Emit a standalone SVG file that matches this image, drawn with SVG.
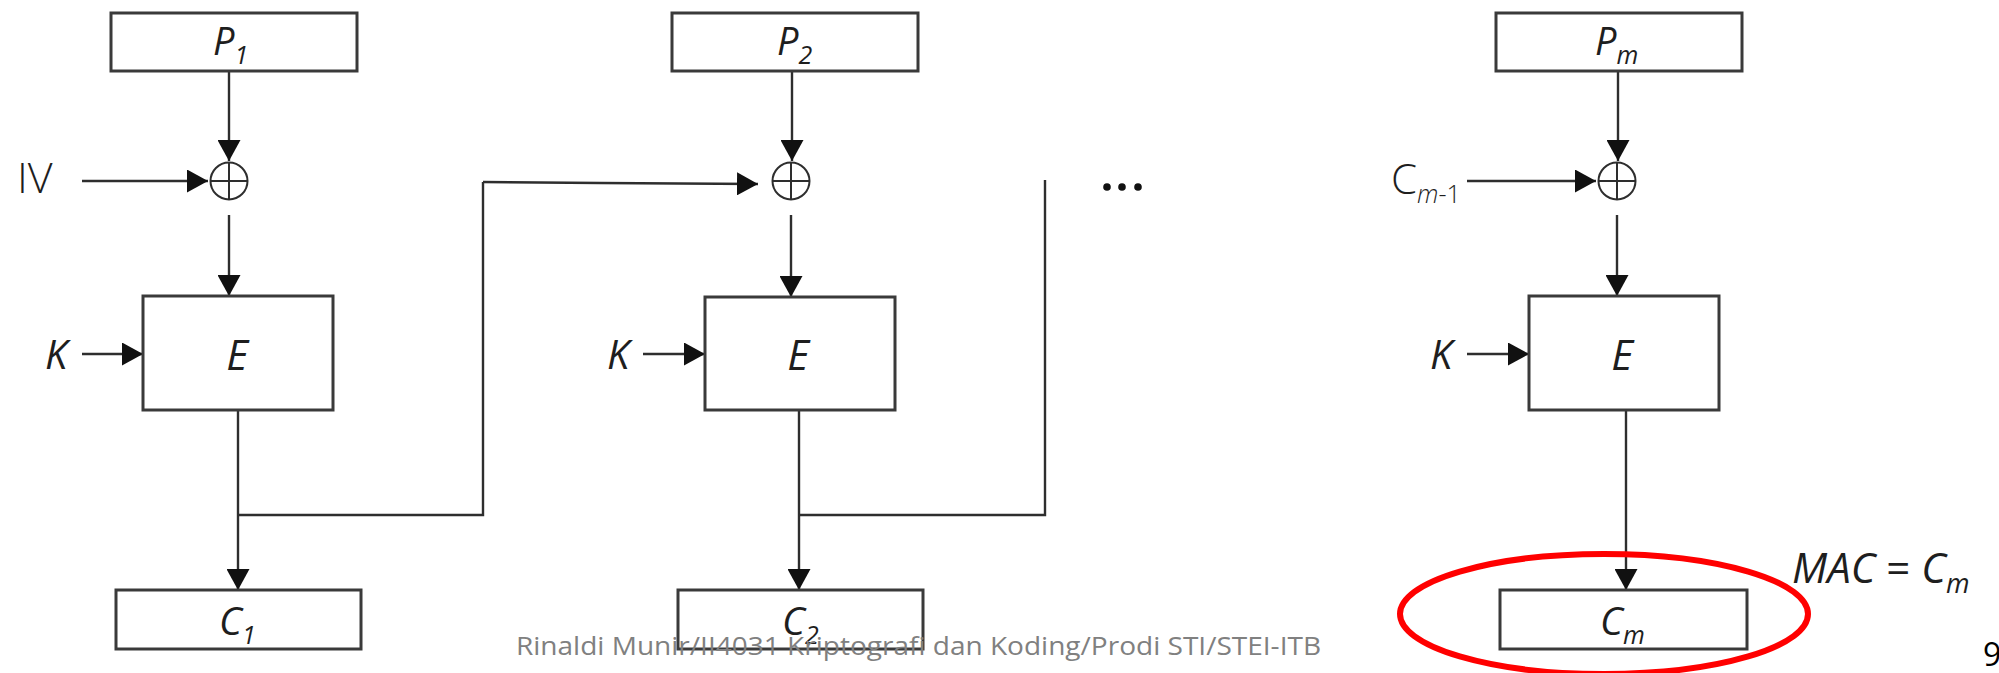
<svg xmlns="http://www.w3.org/2000/svg" width="1999" height="673" viewBox="0 0 1999 673">
<style>
.box{fill:#fff;stroke:#3a3a3a;stroke-width:3}
.ln{fill:none;stroke:#2e2e2e;stroke-width:2.4}
.arr{fill:none;stroke:#2e2e2e;stroke-width:2.4;marker-end:url(#ah)}
.xor{fill:none;stroke:#2e2e2e;stroke-width:2}
.lbl{font-family:"Open Sans","Liberation Sans",sans-serif;font-style:italic;fill:#1e1e1e}
.up{font-family:"Open Sans","Liberation Sans",sans-serif;fill:#1e1e1e;font-weight:300}
.sub{font-size:25px}
.foot{font-family:"Open Sans","Liberation Sans",sans-serif;fill:#808080;font-size:26px}
</style>
<defs>
<marker id="ah" viewBox="0 0 21 23" refX="21" refY="11.5" markerWidth="21" markerHeight="23" markerUnits="userSpaceOnUse" orient="auto">
<path d="M0,0 L21,11.5 L0,23 Z" fill="#111"/>
</marker>
</defs>
<rect width="1999" height="673" fill="#fff"/>

<g id="connectors">
<!-- block 1 -->
<line class="arr" x1="229" y1="71" x2="229" y2="161"/>
<line class="arr" x1="82" y1="181" x2="208" y2="181"/>
<line class="arr" x1="229" y1="215" x2="229" y2="296"/>
<line class="arr" x1="82" y1="354" x2="143" y2="354"/>
<line class="arr" x1="238" y1="410" x2="238" y2="590"/>
<polyline class="ln" points="238,515 483,515 483,182"/>
<polyline class="arr" points="483,182 600,183 758,184"/>
<!-- block 2 -->
<line class="arr" x1="792" y1="71" x2="792" y2="161"/>
<line class="arr" x1="791" y1="215" x2="791" y2="297"/>
<line class="arr" x1="643" y1="354" x2="705" y2="354"/>
<line class="arr" x1="799" y1="410" x2="799" y2="590"/>
<polyline class="ln" points="799,515 1045,515 1045,180"/>
<!-- block m -->
<line class="arr" x1="1618" y1="71" x2="1618" y2="161"/>
<line class="arr" x1="1467" y1="181" x2="1596" y2="181"/>
<line class="arr" x1="1617" y1="215" x2="1617" y2="296"/>
<line class="arr" x1="1467" y1="354" x2="1529" y2="354"/>
<line class="arr" x1="1626" y1="410" x2="1626" y2="590"/>
</g>

<g id="node-P1">
<rect class="box" x="111" y="13" width="246" height="58"/>
<text class="lbl" x="213" y="55" font-size="38">P<tspan class="sub" dy="9">1</tspan></text>
</g>
<g id="node-xor1">
<circle class="xor" cx="229" cy="181" r="18.5"/>
<line class="xor" x1="210.5" y1="181" x2="247.5" y2="181"/>
<line class="xor" x1="229" y1="162.5" x2="229" y2="199.5"/>
</g>
<g id="node-IV"><text class="up" x="17" y="193" font-size="43">IV</text></g>
<g id="node-K1"><text class="lbl" x="45" y="369" font-size="40">K</text></g>
<g id="node-E1">
<rect class="box" x="143" y="296" width="190" height="114"/>
<text class="lbl" x="237" y="370" font-size="42" text-anchor="middle">E</text>
</g>
<g id="node-C1">
<rect class="box" x="116" y="590" width="245" height="59"/>
<text class="lbl" x="219" y="635" font-size="39">C<tspan class="sub" dy="9">1</tspan></text>
</g>

<g id="node-P2">
<rect class="box" x="672" y="13" width="246" height="58"/>
<text class="lbl" x="777" y="55" font-size="38">P<tspan class="sub" dy="9">2</tspan></text>
</g>
<g id="node-xor2">
<circle class="xor" cx="791" cy="181" r="18.5"/>
<line class="xor" x1="772.5" y1="181" x2="809.5" y2="181"/>
<line class="xor" x1="791" y1="162.5" x2="791" y2="199.5"/>
</g>
<g id="node-K2"><text class="lbl" x="607" y="369" font-size="40">K</text></g>
<g id="node-E2">
<rect class="box" x="705" y="297" width="190" height="113"/>
<text class="lbl" x="798" y="370" font-size="42" text-anchor="middle">E</text>
</g>
<g id="node-C2">
<rect class="box" x="678" y="590" width="245" height="59"/>
<text class="lbl" x="782" y="635" font-size="39">C<tspan class="sub" dy="9">2</tspan></text>
</g>

<g id="node-dots">
<circle cx="1107" cy="187" r="3.8" fill="#111"/>
<circle cx="1122" cy="187" r="3.8" fill="#111"/>
<circle cx="1138" cy="187" r="3.8" fill="#111"/>
</g>

<g id="node-Pm">
<rect class="box" x="1496" y="13" width="246" height="58"/>
<text class="lbl" x="1595" y="55" font-size="38">P<tspan class="sub" dy="9">m</tspan></text>
</g>
<g id="node-xorm">
<circle class="xor" cx="1617" cy="181" r="18.5"/>
<line class="xor" x1="1598.5" y1="181" x2="1635.5" y2="181"/>
<line class="xor" x1="1617" y1="162.5" x2="1617" y2="199.5"/>
</g>
<g id="node-Cm1"><text class="up" x="1391" y="194" font-size="42">C<tspan class="sub" dy="9" font-style="italic">m</tspan><tspan class="sub">-1</tspan></text></g>
<g id="node-Km"><text class="lbl" x="1430" y="369" font-size="40">K</text></g>
<g id="node-Em">
<rect class="box" x="1529" y="296" width="190" height="114"/>
<text class="lbl" x="1622" y="370" font-size="42" text-anchor="middle">E</text>
</g>
<g id="node-Cm">
<rect class="box" x="1500" y="590" width="247" height="59"/>
<text class="lbl" x="1600" y="635" font-size="39">C<tspan class="sub" dy="9">m</tspan></text>
</g>
<g id="node-highlight">
<ellipse cx="1604" cy="614" rx="204" ry="60" fill="none" stroke="#ff0000" stroke-width="6"/>
</g>
<g id="node-MAC">
<text class="lbl" x="1792" y="583" font-size="42" fill="#000">MAC <tspan font-style="normal">=</tspan> C<tspan font-size="27" dy="10">m</tspan></text>
</g>

<g id="footer">
<text class="foot" x="516" y="655" textLength="805" lengthAdjust="spacingAndGlyphs">Rinaldi Munir/II4031 Kriptografi dan Koding/Prodi STI/STEI-ITB</text>
<text x="1983" y="666" font-family="Open Sans, Liberation Sans, sans-serif" font-size="32" fill="#000">9</text>
</g>
</svg>
